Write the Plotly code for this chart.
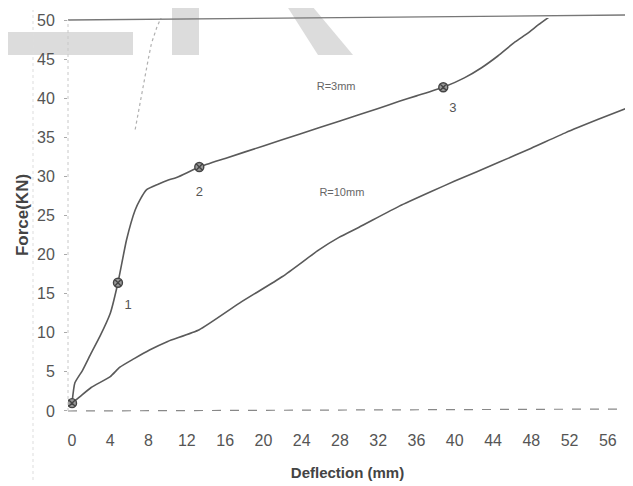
import plotly.graph_objects as go

# ---- data ----
r3_x = [0, 0.3, 1.1, 2.0, 2.9, 4.0, 4.8, 5.7, 6.6, 7.1, 7.8, 9.0, 10.0, 11.0, 13.3,
        16.0, 20.0, 23.75, 28.0, 32.0, 34.2, 36.0, 38.8, 41.0, 42.8, 44.5, 46.3, 47.6, 48.75, 50.1]
r3_f = [1.0, 3.6, 5.2, 7.4, 9.5, 12.5, 16.4, 21.9, 25.7, 27.0, 28.3, 29.0, 29.5, 29.9, 31.2,
        32.3, 33.9, 35.4, 37.1, 38.7, 39.6, 40.3, 41.4, 42.6, 43.9, 45.4, 47.2, 48.3, 49.4, 50.6]

r10_x = [0, 0.8, 2.0, 4.0, 5.0, 6.5, 8.1, 10.0, 13.3, 17.5, 22.0, 25.8, 27.9, 30.0,
         34.2, 37.6, 40.0, 44.6, 48.0, 51.6, 55.0, 58.1]
r10_f = [1.0, 1.8, 3.0, 4.4, 5.6, 6.7, 7.8, 8.9, 10.4, 13.8, 17.2, 20.6, 22.2, 23.5,
         26.2, 28.1, 29.4, 31.8, 33.6, 35.6, 37.3, 38.8]

# marked points on R=3mm curve
pt_x = [0, 4.8, 13.3, 38.8]
pt_f = [1.0, 16.4, 31.2, 41.4]
pt_lbl = ["", "1", "2", "3"]
lbl_x = [0, 5.85, 13.3, 39.8]
lbl_f = [0, 13.4, 27.9, 38.7]

# faint dotted residue curve (top-left)
res_x = [6.6, 7.2, 7.6, 8.0, 8.3, 8.9, 9.5]
res_f = [36.0, 40.0, 43.0, 45.2, 47.0, 49.2, 50.8]

x_ticks = [0, 4, 8, 12, 16, 20, 24, 28, 32, 36, 40, 44, 48, 52, 56]
y_ticks = [0, 5, 10, 15, 20, 25, 30, 35, 40, 45, 50]

curve_labels = ["R=3mm", "R=10mm"]
curve_lbl_x = [27.6, 28.2]
curve_lbl_f = [41.4, 27.9]

FONT = "Liberation Sans Narrow, Arial Narrow, Liberation Sans, Arial, sans-serif"
LINE = "#5a5a5a"

fig = go.Figure()

fig.add_trace(go.Scatter(x=res_x, y=res_f, mode="lines",
                         line=dict(color="#b0b0b0", width=1.2, dash="dot"),
                         hoverinfo="skip", showlegend=False))
fig.add_trace(go.Scatter(x=r3_x, y=r3_f, mode="lines", name="R=3mm",
                         line=dict(color=LINE, width=1.6, shape="spline", smoothing=0.5),
                         showlegend=False))
fig.add_trace(go.Scatter(x=r10_x, y=r10_f, mode="lines", name="R=10mm",
                         line=dict(color=LINE, width=1.6, shape="spline", smoothing=0.5),
                         showlegend=False))
fig.add_trace(go.Scatter(x=pt_x, y=pt_f, mode="markers",
                         marker=dict(symbol="circle-x", size=9, color="#9a9a9a",
                                     line=dict(color="#444444", width=1.4)),
                         showlegend=False))
fig.add_trace(go.Scatter(x=lbl_x[1:], y=lbl_f[1:], mode="text", text=pt_lbl[1:],
                         textfont=dict(family=FONT, size=13, color="#555555"),
                         showlegend=False))
fig.add_trace(go.Scatter(x=curve_lbl_x, y=curve_lbl_f, mode="text", text=curve_labels,
                         textfont=dict(family=FONT, size=11, color="#666666"),
                         showlegend=False))

# page geometry: the html body has an 8px margin, so the figure sits at (8, 8)
OFF = 8
W, H = 633 - OFF, 486 - OFF
PL, PR, PT, PB = 68, 627, 18, 412          # plot area edges in page pixels
L, R, T, B = PL - OFF, W - (PR - OFF), PT - OFF, H - (PB - OFF)
pw, ph = W - L - R, H - T - B


def px(xp):
    return (xp - PL) / pw


def py(yp):
    return (PB - yp) / ph


GRAY = "#dcdcdc"
shapes = [
    # watermark blocks
    dict(type="rect", xref="paper", yref="paper", x0=px(0), x1=px(133), y0=py(55), y1=py(32),
         fillcolor=GRAY, line=dict(width=0), layer="below"),
    dict(type="rect", xref="paper", yref="paper", x0=px(172), x1=px(199), y0=py(55), y1=py(0),
         fillcolor=GRAY, line=dict(width=0), layer="below"),
    dict(type="path", xref="paper", yref="paper",
         path=f"M {px(283)},{py(0)} L {px(307)},{py(0)} L {px(353)},{py(55)} L {px(318)},{py(55)} Z",
         fillcolor=GRAY, line=dict(width=0), layer="below"),
    # frame
    dict(type="line", xref="paper", yref="paper", x0=0, x1=1, y0=py(20), y1=py(15),
         line=dict(color="#777777", width=1.3)),
    dict(type="line", xref="paper", yref="paper", x0=1, x1=1, y0=py(15), y1=py(409),
         line=dict(color="#888888", width=1.3)),
    dict(type="line", xref="paper", yref="paper", x0=0, x1=1, y0=py(411), y1=py(409),
         line=dict(color="#888888", width=1.2, dash="dash")),
    dict(type="line", xref="paper", yref="paper", x0=0, x1=0, y0=py(411), y1=py(20),
         line=dict(color="#c8c8c8", width=1, dash="dot")),
    dict(type="line", xref="paper", yref="paper", x0=px(33), x1=px(33), y0=py(480), y1=py(10),
         line=dict(color="#dddddd", width=1, dash="dot")),
]

fig.update_layout(
    width=W, height=H,
    margin=dict(l=L, r=R, t=T, b=B, autoexpand=False),
    paper_bgcolor="white", plot_bgcolor="white",
    showlegend=False,
    shapes=shapes,
    xaxis=dict(range=[-0.42, 58.0], tickmode="array", tickvals=x_ticks,
               ticktext=[str(v) for v in x_ticks], automargin=False,
               showgrid=False, zeroline=False, showline=False,
               ticks="", ticklabelstandoff=17,
               tickfont=dict(family=FONT, size=16, color="#555555"),
               title=dict(text="<b>Deflection (mm)</b>", standoff=19,
                          font=dict(family=FONT, size=15, color="#444444"))),
    yaxis=dict(range=[-0.13, 50.26], tickmode="array", tickvals=y_ticks,
               ticktext=[str(v) for v in y_ticks], automargin=False,
               showgrid=False, zeroline=False, showline=False,
               ticks="outside", ticklen=3, tickcolor="#aaaaaa",
               ticklabelstandoff=6,
               tickfont=dict(family=FONT, size=16, color="#555555"),
               title=dict(text="<b>Force(KN)</b>", standoff=4,
                          font=dict(family=FONT, size=17, color="#444444"))),
)

fig.write_html("out.html")
